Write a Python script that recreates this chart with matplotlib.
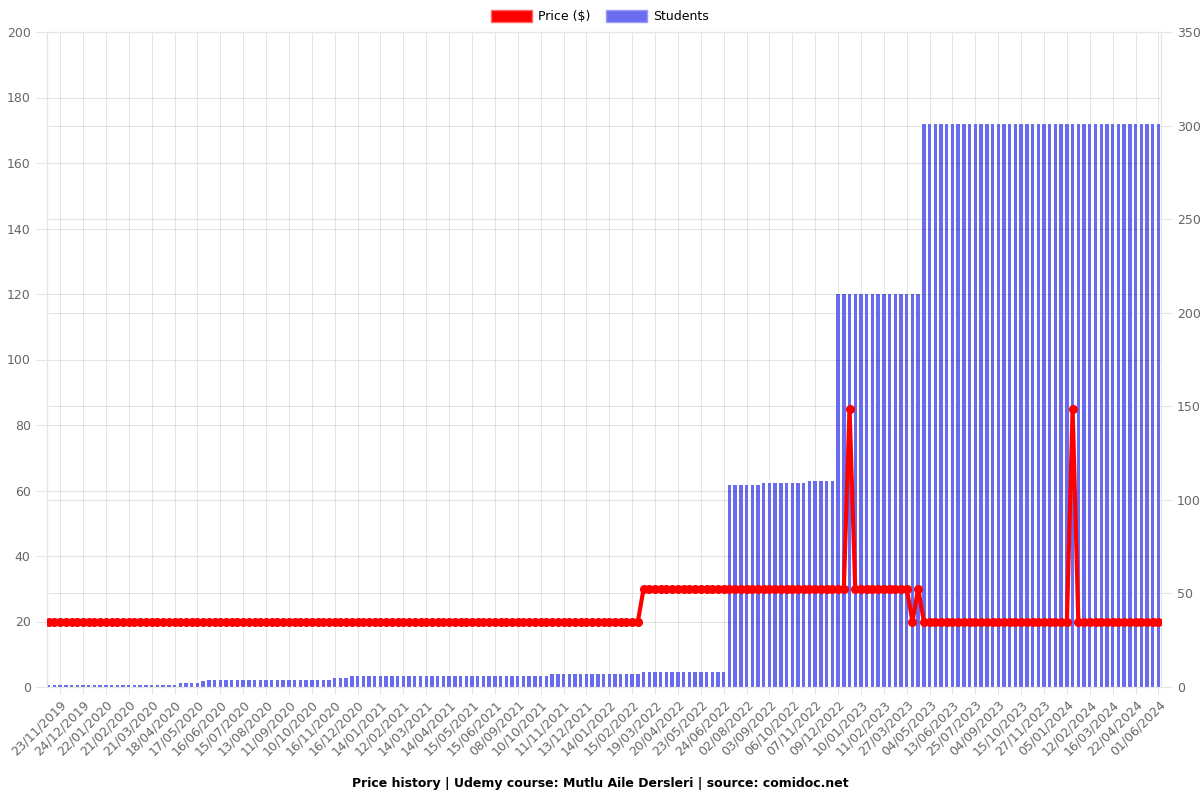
import numpy as np
import matplotlib.pyplot as plt
import matplotlib.transforms as mtransforms
from matplotlib.patches import Patch

# values as (value, number of points) runs
price_runs = [(20, 104), (30, 36), (85, 1), (30, 10), (20, 1), (30, 1),
              (20, 26), (85, 1), (20, 15)]
student_runs = [(1, 23), (2, 4), (3, 1), (4, 22), (5, 3), (6, 35), (7, 16),
                (8, 15), (108, 6), (109, 8), (110, 5), (210, 15), (301, 42)]

date_labels = ['23/11/2019', '24/12/2019', '22/01/2020', '21/02/2020', '21/03/2020',
               '18/04/2020', '17/05/2020', '16/06/2020', '15/07/2020', '13/08/2020',
               '11/09/2020', '10/10/2020', '16/11/2020', '16/12/2020', '14/01/2021',
               '12/02/2021', '14/03/2021', '14/04/2021', '15/05/2021', '15/06/2021',
               '08/09/2021', '10/10/2021', '11/11/2021', '13/12/2021', '14/01/2022',
               '15/02/2022', '19/03/2022', '20/04/2022', '23/05/2022', '24/06/2022',
               '02/08/2022', '03/09/2022', '06/10/2022', '07/11/2022', '09/12/2022',
               '10/01/2023', '11/02/2023', '27/03/2023', '04/05/2023', '13/06/2023',
               '25/07/2023', '04/09/2023', '15/10/2023', '27/11/2023', '05/01/2024',
               '12/02/2024', '16/03/2024', '22/04/2024', '01/06/2024']

price = [v for v, n in price_runs for _ in range(n)]
students = [v for v, n in student_runs for _ in range(n)]
x = np.arange(len(price))
label_pos = x[2::4]

line_c = '#e5e5e5'
text_c = '#666666'
bar_c = '#6a6cf0'

fig = plt.figure(figsize=(12, 8), dpi=100)
ax = fig.add_axes([0.0389, 0.14125, 0.9286, 0.81875])
ax2 = ax.twinx()

# students bars behind, on the right axis
ax.bar(x, students, width=0.6, color=bar_c, zorder=2)
ax.set_ylim(0, 350)
ax.set_yticks(np.arange(0, 351, 50))
ax.yaxis.tick_right()

# price line on the left axis
ax2.plot(x, price, color='#ff0000', lw=3, marker='o', ms=5.5, zorder=3)
ax2.set_ylim(0, 200)
ax2.set_yticks(np.arange(0, 201, 20))
ax2.yaxis.tick_left()

ax.set_xlim(-0.35, len(x) - 0.55)
ax.set_xticks(label_pos)
ax.set_xticklabels(date_labels, rotation=45, ha='right', rotation_mode='anchor')
shift = mtransforms.ScaledTranslation(-4 / 72, 0, fig.dpi_scale_trans)
for lab in ax.get_xticklabels():
    lab.set_transform(lab.get_transform() + shift)

for a in (ax, ax2):
    a.tick_params(colors=text_c, labelsize=9, length=8, color=line_c)
    for s in a.spines.values():
        s.set_color(line_c)
ax.tick_params(axis='x', length=5, pad=3)
ax.grid(True, color='black', alpha=0.1, lw=0.8, zorder=0)
ax2.grid(True, axis='y', color='black', alpha=0.1, lw=0.8)
ax.set_axisbelow(True)
ax2.patch.set_visible(False)

handles = [Patch(facecolor='#ff0000', edgecolor='#ff6666'),
           Patch(facecolor=bar_c, edgecolor='#9a9cf5')]
fig.legend(handles, ['Price ($)', 'Students'], loc='upper center',
           bbox_to_anchor=(0.5, 1.002), ncol=2, frameon=False, fontsize=9,
           handlelength=3.3, handleheight=1.1, columnspacing=1.2, handletextpad=0.5)

fig.text(0.5, 0.021, 'Price history | Udemy course: Mutlu Aile Dersleri | source: comidoc.net',
         ha='center', va='center', fontsize=9, fontweight='bold')

fig.savefig('out.png')
